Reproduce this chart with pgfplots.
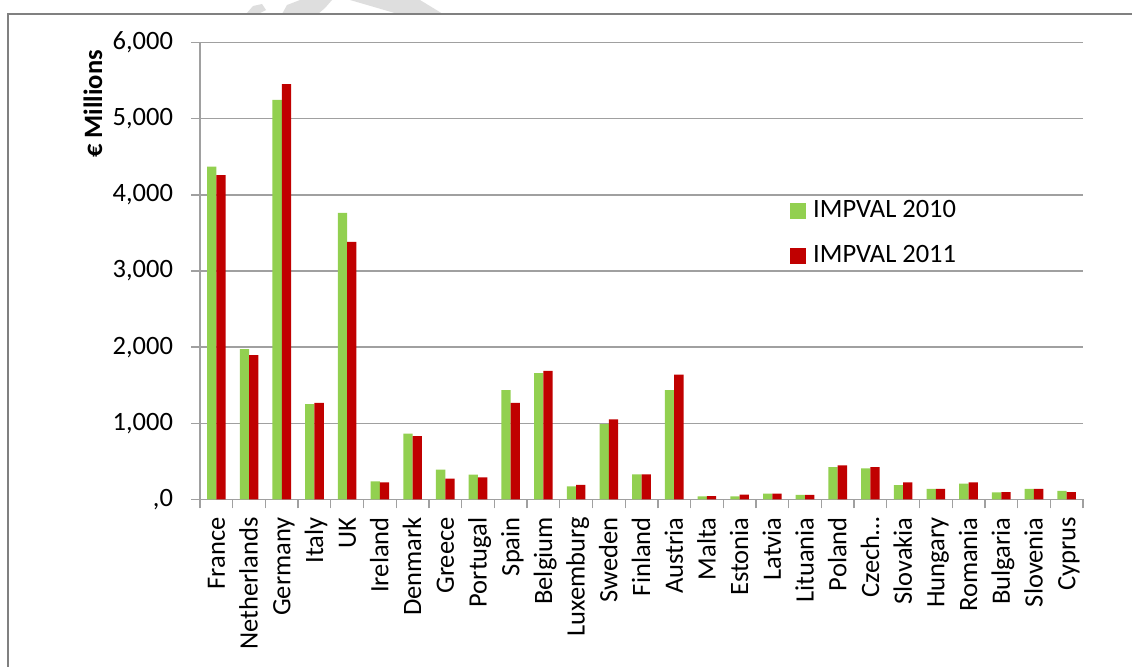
\documentclass[border=0pt]{standalone}
\usepackage{fontspec}
\setmainfont{Carlito}
\usepackage{pgfplots}
\usepackage{pgfplotstable}
\pgfplotsset{compat=1.18}

\definecolor{barGreen}{RGB}{146,208,80}
\definecolor{barRed}{RGB}{192,0,0}
\definecolor{gridGray}{RGB}{160,160,160}
\definecolor{frameGray}{RGB}{128,128,128}
\definecolor{markGray}{RGB}{222,222,222}

% Import values by country, EUR millions
\pgfplotstableread{
idx y2010 y2011
0  4373 4259
1  1974 1895
2  5250 5456
3  1250 1268
4  3763 3382
5  237  224
6  864  829
7  390  272
8  325  289
9  1434 1268
10 1658 1689
11 171  189
12 989  1050
13 328  328
14 1435 1637
15 40   42
16 40   60
17 75   75
18 58   58
19 424  446
20 407  424
21 188  223
22 136  136
23 206  223
24 92   95
25 136  136
26 110  96
}\impval

\begin{document}
\fontsize{26.5bp}{31bp}\selectfont
\begin{tikzpicture}
\useasboundingbox (0,0) rectangle (1132bp,-667bp);

% faint background stamp above the chart frame
\begin{scope}
  \clip (0,0) rectangle (1132bp,-14bp);
  \fill[markGray] (246bp,-14bp) -- (253bp,-6bp) -- (262bp,-4bp) -- (266bp,-10bp) -- (258bp,-14bp) -- cycle;
  \fill[markGray] (282bp,-14bp) -- (287bp,-5bp) -- (300bp,0bp) -- (332bp,0bp) -- (325bp,-8bp) -- (318bp,-14bp) -- cycle;
  \fill[markGray] (350bp,0bp) -- (420bp,0bp) -- (443bp,-14bp) -- (398bp,-14bp) -- cycle;
\end{scope}

% chart frame
\draw[frameGray, line width=2bp] (8bp,-700bp) -- (8bp,-14bp) -- (1150bp,-14bp);

\begin{axis}[
  at={(200bp,-499.3bp)}, anchor=south west,
  scale only axis, width=883bp, height=456.6bp,
  ybar=0pt, bar width=9.3bp,
  xmin=-0.5, xmax=26.5, ymin=0, ymax=6000,
  axis lines=left,
  axis line style={-, draw=gridGray, line width=1.3bp},
  ymajorgrids,
  major grid style={draw=gridGray, line width=1.3bp},
  tick align=outside,
  major tick length=9bp, minor tick length=9bp,
  y tick style={draw=gridGray, line width=1.3bp},
  minor x tick style={draw=gridGray, line width=1.3bp},
  major x tick style={draw=none},
  ytick={0,1000,2000,3000,4000,5000,6000},
  yticklabels={{,0},{1,000},{2,000},{3,000},{4,000},{5,000},{6,000}},
  yticklabel style={xshift=-9bp},
  xtick={0,...,26},
  minor xtick={-0.5,0.5,...,26.5},
  xticklabels={France,Netherlands,Germany,Italy,UK,Ireland,Denmark,Greece,Portugal,Spain,Belgium,Luxemburg,Sweden,Finland,Austria,Malta,Estonia,Latvia,Lituania,Poland,Czech…,Slovakia,Hungary,Romania,Bulgaria,Slovenia,Cyprus},
  xticklabel style={rotate=90, anchor=east, text height=0.75em, text depth=0.1em},
  legend style={draw=none, fill=none, at={(0.6682,0.656)}, anchor=north west,
    inner sep=0pt, row sep=24bp, nodes={inner sep=0pt}},
  legend cell align=left,
  legend image code/.code={\fill[#1] (0bp,-8bp) rectangle (16bp,8bp);},
  /tikz/every odd column/.append style={column sep=7bp},
]
\addplot[draw=none, fill=barGreen] table[x=idx, y=y2010] {\impval};
\addlegendentry{IMPVAL 2010}
\addplot[draw=none, fill=barRed] table[x=idx, y=y2011] {\impval};
\addlegendentry{IMPVAL 2011}
\end{axis}

\node[rotate=90, font=\bfseries] at (93bp,-104bp) {€ Millions};
\end{tikzpicture}
\end{document}
